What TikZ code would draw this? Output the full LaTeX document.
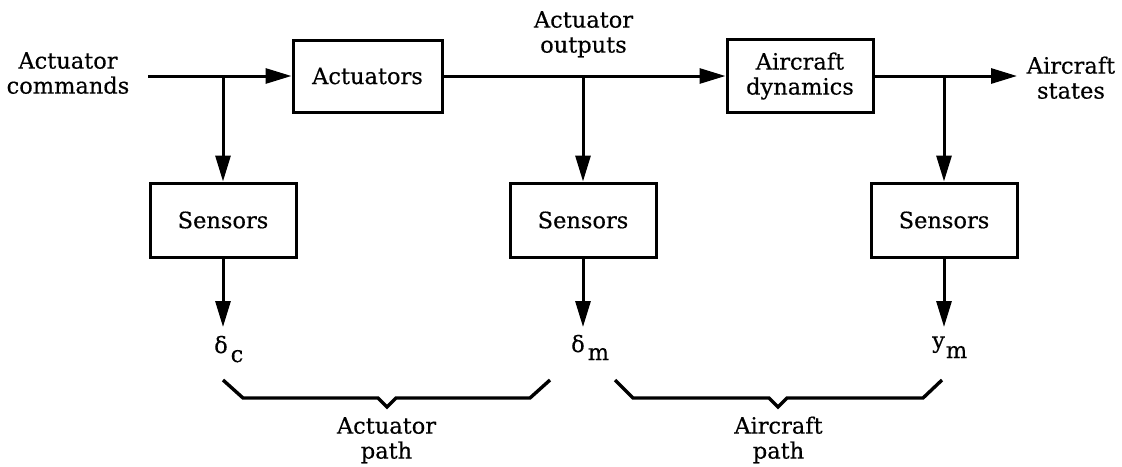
\documentclass[tikz,border=0pt]{standalone}
\usepackage{fontspec}
\setmainfont{DejaVu Serif}[FakeBold=0.4]
\usetikzlibrary{arrows.meta}
\begin{document}
\begin{tikzpicture}[x=1pt,y=-1pt,
  font=\fontsize{22.5}{25}\selectfont,
  block/.style={draw, line width=3pt, inner sep=0pt, align=center},
  flow/.style={line width=3pt, -{Triangle[length=26pt,width=15pt]}},
  brace/.style={line width=3.4pt, line join=miter},
  lbl/.style={inner sep=0pt, align=center, anchor=north},
  sym/.style={inner sep=0pt, anchor=base west}]
\useasboundingbox (0,0) rectangle (1122,466);

% forward chain
\node[block, minimum width=149pt, minimum height=72pt] (act) at (367.5,76) {Actuators};
\node[block, minimum width=146pt, minimum height=73pt] (dyn) at (800,76) {Aircraft\\dynamics};

% measurement blocks
\node[block, minimum width=146pt, minimum height=74pt] (s1) at (223,220) {Sensors};
\node[block, minimum width=146pt, minimum height=74pt] (s2) at (583,220) {Sensors};
\node[block, minimum width=146pt, minimum height=74pt] (s3) at (944,220) {Sensors};

% signal labels
\node[lbl] (cmd) at (68,52) {Actuator\\commands};
\node[lbl] (aout) at (583.5,11) {Actuator\\outputs};
\node[lbl] (states) at (1071,56.3) {Aircraft\\states};

% line ends and branch points
\coordinate (in) at (148,76);
\coordinate (b1) at (223,76);
\coordinate (b2) at (583,76);
\coordinate (b3) at (944,76);
\coordinate (out) at (1017,76);
\coordinate (e1) at (223,327);
\coordinate (e2) at (583,327);
\coordinate (e3) at (944,327);

\draw[flow] (in) -- (act.west);
\draw[flow] (act.east) -- (dyn.west);
\draw[flow] (dyn.east) -- (out);
\draw[flow] (b1) -- (s1.north);
\draw[flow] (b2) -- (s2.north);
\draw[flow] (b3) -- (s3.north);
\draw[flow] (s1.south) -- (e1);
\draw[flow] (s2.south) -- (e2);
\draw[flow] (s3.south) -- (e3);

% measured signals
\node[sym] (dc) at (214,353) {δ\kern3pt\raisebox{-9pt}{c}};
\node[sym] (dm) at (571,352) {δ\kern3pt\raisebox{-8pt}{m}};
\node[sym] (ymeas) at (932,348) {y\kern1pt\raisebox{-10pt}{m}};

% path braces
\draw[brace] (223,380) -- (243,398) -- (378,398) -- (387,407) -- (396,398) -- (530,398) -- (550,380);
\draw[brace] (615,380) -- (633,398) -- (769,398) -- (778,407) -- (787,398) -- (923,398) -- (942,380);
\node[lbl] (apath) at (386.5,417) {Actuator\\path};
\node[lbl] (cpath) at (778.5,416.3) {Aircraft\\path};
\end{tikzpicture}
\end{document}
